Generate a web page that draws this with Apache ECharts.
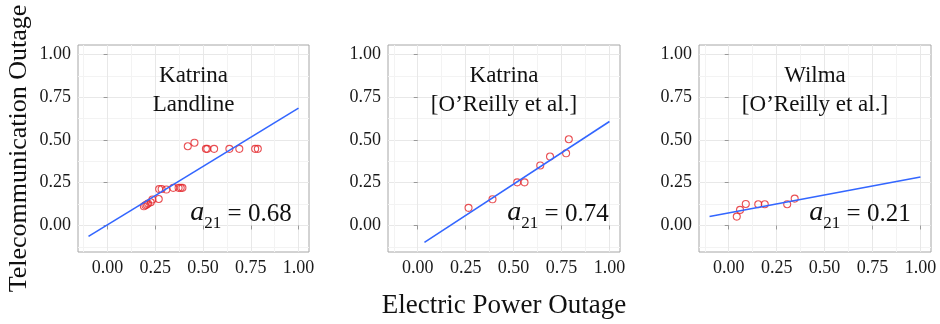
<!DOCTYPE html>
<html>
<head>
<meta charset="utf-8">
<script src="https://cdn.jsdelivr.net/npm/echarts@6/dist/echarts.min.js"></script>
<style>
html, body { margin: 0; padding: 0; background: #fff; }
#main { width: 940px; height: 324px; }
</style>
</head>
<body>
<div id="main"></div>
<script>
// Katrina landline
var landX = [0.19, 0.198, 0.205, 0.212, 0.226, 0.235, 0.268, 0.27, 0.283, 0.308, 0.344, 0.372, 0.383, 0.392, 0.42, 0.455, 0.515, 0.522, 0.558, 0.638, 0.69, 0.773, 0.787];
var landY = [0.112, 0.118, 0.122, 0.128, 0.136, 0.152, 0.155, 0.213, 0.213, 0.21, 0.22, 0.22, 0.22, 0.22, 0.463, 0.484, 0.448, 0.448, 0.448, 0.448, 0.448, 0.448, 0.448];
var landFitX = [-0.1, 1.0];
var landFitY = [-0.064, 0.686];

// Katrina O'Reilly
var katX = [0.265, 0.39, 0.519, 0.557, 0.639, 0.69, 0.774, 0.788];
var katY = [0.103, 0.153, 0.252, 0.252, 0.351, 0.403, 0.422, 0.504];
var katFitX = [0.035, 1.0];
var katFitY = [-0.099, 0.608];

// Wilma O'Reilly
var wilX = [0.042, 0.059, 0.089, 0.154, 0.188, 0.305, 0.344];
var wilY = [0.052, 0.091, 0.126, 0.124, 0.124, 0.124, 0.157];
var wilFitX = [-0.1, 1.0];
var wilFitY = [0.052, 0.283];

var tickValues = [0, 0.25, 0.5, 0.75, 1];
var tickLabels = ['0.00', '0.25', '0.50', '0.75', '1.00'];
var minorValues = [-0.125, 0.125, 0.375, 0.625, 0.875];

var panelNames = ['Katrina\nLandline', 'Katrina\n[O\u2019Reilly et al.]', 'Wilma\n[O\u2019Reilly et al.]'];
var slopeText = ['0.68', '0.74', '0.21'];

var serif = 'Liberation Serif';
var lo = -0.155, hi = 1.055;

var grids = [
    {left: 78, top: 45, width: 231, height: 207},
    {left: 388, top: 45, width: 232, height: 207},
    {left: 699, top: 45, width: 232, height: 207}
];
var annoCenter = [241, 558, 860];

function zip(xs, ys) {
    return xs.map(function(x, i) { return [x, ys[i]]; });
}
function tickFmt(v) {
    var i = tickValues.indexOf(v);
    return i >= 0 ? tickLabels[i] : '';
}

var xAxes = [], yAxes = [], titles = [], series = [];
var pts = [zip(landX, landY), zip(katX, katY), zip(wilX, wilY)];
var fits = [zip(landFitX, landFitY), zip(katFitX, katFitY), zip(wilFitX, wilFitY)];

for (var i = 0; i < 3; i++) {
    grids[i].show = true;
    grids[i].borderColor = '#a6a6a6';
    grids[i].borderWidth = 1;
    grids[i].backgroundColor = '#fff';

    // major axes
    xAxes.push({
        type: 'value', gridIndex: i, min: lo, max: hi, position: 'bottom',
        axisLine: {show: false},
        axisTick: {show: true, length: 4, customValues: tickValues, lineStyle: {color: '#999'}},
        axisLabel: {customValues: tickValues, formatter: tickFmt, fontFamily: serif, fontSize: 18, color: '#1a1a1a', margin: 7},
        splitLine: {show: true, lineStyle: {color: '#e8e8e8', width: 1}},
        name: i === 1 ? 'Electric Power Outage' : '',
        nameLocation: 'middle', nameGap: 40,
        nameTextStyle: {fontFamily: serif, fontSize: 27, color: '#111'}
    });
    yAxes.push({
        type: 'value', gridIndex: i, min: lo, max: hi, position: 'left',
        axisLine: {show: false},
        axisTick: {show: true, length: 4, customValues: tickValues, lineStyle: {color: '#999'}},
        axisLabel: {customValues: tickValues, formatter: tickFmt, fontFamily: serif, fontSize: 18, color: '#1a1a1a', margin: 7},
        splitLine: {show: true, lineStyle: {color: '#e8e8e8', width: 1}},
        name: i === 0 ? 'Telecommunication Outage' : '',
        nameLocation: 'middle', nameGap: 46,
        nameTextStyle: {fontFamily: serif, fontSize: 26, color: '#111'}
    });

    titles.push({
        text: panelNames[i],
        left: grids[i].left + grids[i].width / 2, top: 61, textAlign: 'center', padding: 0,
        textStyle: {fontFamily: serif, fontSize: 23, lineHeight: 29, fontWeight: 'normal', color: '#111'}
    });
    titles.push({
        text: '{a|a}{s|21}{n| = ' + slopeText[i] + '}',
        left: annoCenter[i], top: 197, textAlign: 'center', padding: 0,
        textStyle: {
            fontWeight: 'normal',
            rich: {
                a: {fontFamily: serif, fontStyle: 'italic', fontWeight: 'normal', fontSize: 28, color: '#111', lineHeight: 30, verticalAlign: 'bottom'},
                s: {fontFamily: serif, fontWeight: 'normal', fontSize: 17, color: '#111', lineHeight: 30, verticalAlign: 'bottom', padding: [0, 0, -5, 0]},
                n: {fontFamily: serif, fontWeight: 'normal', fontSize: 25, color: '#111', lineHeight: 30, verticalAlign: 'bottom'}
            }
        }
    });

    series.push({
        type: 'scatter', xAxisIndex: i, yAxisIndex: i,
        data: pts[i], symbol: 'circle', symbolSize: 7,
        itemStyle: {color: 'rgba(0,0,0,0)', borderColor: '#e3262b', borderWidth: 1.1},
        silent: true
    });
    series.push({
        type: 'line', xAxisIndex: i, yAxisIndex: i,
        data: fits[i], showSymbol: false, symbol: 'none',
        lineStyle: {color: '#3366ff', width: 1.6},
        silent: true
    });
}

// minor grid lines
for (var j = 0; j < 3; j++) {
    xAxes.push({
        type: 'value', gridIndex: j, min: lo, max: hi,
        axisLine: {show: false}, axisLabel: {show: false},
        axisTick: {show: false, customValues: minorValues},
        splitLine: {show: true, lineStyle: {color: '#f3f3f3', width: 1}}
    });
    yAxes.push({
        type: 'value', gridIndex: j, min: lo, max: hi,
        axisLine: {show: false}, axisLabel: {show: false},
        axisTick: {show: false, customValues: minorValues},
        splitLine: {show: true, lineStyle: {color: '#f3f3f3', width: 1}}
    });
}

var chart = echarts.init(document.getElementById('main'), null, {renderer: 'canvas'});
chart.setOption({
    animation: false,
    backgroundColor: '#fff',
    title: titles,
    grid: grids,
    xAxis: xAxes,
    yAxis: yAxes,
    series: series
});
</script>
</body>
</html>
